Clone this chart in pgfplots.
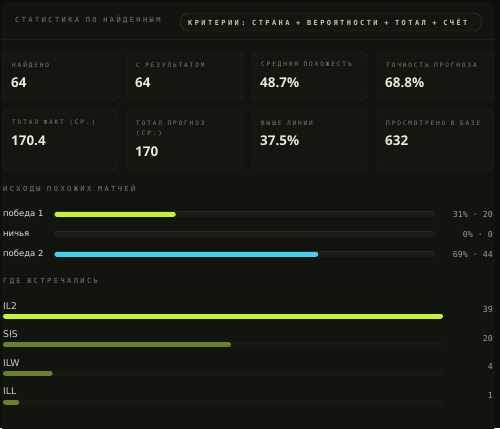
\documentclass[border=0pt]{standalone}
\usepackage{pgfplots}
\pgfplotsset{compat=1.18}
\usepackage{fontspec}
\setmainfont{DejaVu Sans}
\newfontfamily\lbl[LetterSpace=35]{DejaVu Sans Mono}
\newfontfamily\lbls[LetterSpace=31]{DejaVu Sans Mono}
\newfontfamily\monof{DejaVu Sans Mono}
\newfontfamily\valfont{Open Sans}
\definecolor{bgout}{HTML}{0D0F0A}
\definecolor{panel}{HTML}{12140E}
\definecolor{panelborder}{HTML}{1F2219}
\definecolor{cardborder}{HTML}{272A1F}
\definecolor{cardfill}{HTML}{14160F}
\definecolor{lblgray}{HTML}{7A7D6E}
\definecolor{valtxt}{HTML}{E6EAD6}
\definecolor{pillborder}{HTML}{3D4228}
\definecolor{pilltxt}{HTML}{C9CDB5}
\definecolor{lime}{HTML}{C6F135}
\definecolor{cyanbar}{HTML}{3FD3F0}
\definecolor{olive}{HTML}{6A7F2A}
\definecolor{track}{HTML}{1A1D14}
\definecolor{trackborder}{HTML}{262A1E}
\definecolor{ptrack}{HTML}{171A12}
\definecolor{rowtxt}{HTML}{E4E7D6}
\definecolor{numtxt}{HTML}{9B9E8A}
\begin{document}
\begin{tikzpicture}[x=1bp,y=1bp]
\fill[bgout] (0,0) rectangle (500,428);
\draw[panelborder,fill=panel,rounded corners=8bp] (2,-10) rectangle (494,425);
\draw[panelborder] (2,389) -- (494,389);
% header
\node[anchor=west,inner sep=0,text=lblgray,font=\lbl\fontsize{7}{8}\selectfont] at (15,408) {СТАТИСТИКА ПО НАЙДЕННЫМ};
\draw[pillborder,fill=cardfill,rounded corners=9bp] (180,415) rectangle (482,397);
\node[anchor=west,inner sep=0,text=pilltxt,font=\lbl\bfseries\fontsize{7}{8}\selectfont] at (188,406) {КРИТЕРИИ: СТРАНА + ВЕРОЯТНОСТИ + ТОТАЛ + СЧЁТ};
% cards
\foreach \xa/\xb in {3/118,127/243,252/367,377/493}{
  \draw[cardborder,fill=cardfill,rounded corners=6bp] (\xa,376) rectangle (\xb,328);
  \draw[cardborder,fill=cardfill,rounded corners=6bp] (\xa,318) rectangle (\xb,258);
}
\tikzset{cl/.style={anchor=west,inner sep=0,text=lblgray,font=\lbls\fontsize{6.1}{7}\selectfont},
         cv/.style={anchor=west,inner sep=0,text=valtxt,font=\valfont\bfseries\fontsize{13.5}{15}\selectfont}}
\node[cl] at (12,363) {НАЙДЕНО};
\node[cv] at (11,345) {64};
\node[cl] at (136,363) {С РЕЗУЛЬТАТОМ};
\node[cv] at (135,345) {64};
\node[cl] at (261,363) {СРЕДНЯЯ ПОХОЖЕСТЬ};
\node[cv] at (260,345) {48.7\%};
\node[cl] at (386,363) {ТОЧНОСТЬ ПРОГНОЗА};
\node[cv] at (385,345) {68.8\%};
\node[cl] at (12,305) {ТОТАЛ ФАКТ (СР.)};
\node[cv] at (11,287) {170.4};
\node[cl] at (136,305) {ТОТАЛ ПРОГНОЗ};
\node[cl] at (136,294) {(СР.)};
\node[cv] at (135,276) {170};
\node[cl] at (261,305) {ВЫШЕ ЛИНИИ};
\node[cv] at (260,287) {37.5\%};
\node[cl] at (386,305) {ПРОСМОТРЕНО В БАЗЕ};
\node[cv] at (385,287) {632};
% outcomes
\node[anchor=west,inner sep=0,text=lblgray,font=\lbl\fontsize{7}{8}\selectfont] at (3,239) {ИСХОДЫ ПОХОЖИХ МАТЧЕЙ};
\tikzset{rl/.style={anchor=west,inner sep=0,text=rowtxt,font=\fontsize{8.5}{10}\selectfont},
         rn/.style={anchor=east,inner sep=0,text=numtxt,font=\monof\fontsize{8.3}{10}\selectfont}}
\node[rl] at (3,214) {победа 1};
\node[rl] at (3,194) {ничья};
\node[rl] at (3,174) {победа 2};
\node[rn] at (493,214) {31\% · 20};
\node[rn] at (493,194) {0\% · 0};
\node[rn] at (493,174) {69\% · 44};
\begin{axis}[at={(57bp,174bp)},anchor=south west,scale only axis,width=375bp,height=40bp,
  xmin=0,xmax=100,ymin=0,ymax=2,y dir=reverse,hide axis,clip=false]
\addplot[xcomb,line cap=round,line width=6.5bp,trackborder,mark=none] coordinates {(100,0) (100,1) (100,2)};
\addplot[xcomb,line cap=round,line width=5bp,track,mark=none] coordinates {(100,0) (100,1) (100,2)};
\addplot[xcomb,line cap=round,line width=5bp,lime,mark=none] coordinates {(31,0)};
\addplot[xcomb,line cap=round,line width=5bp,cyanbar,mark=none] coordinates {(69,2)};
\end{axis}
% places
\node[anchor=west,inner sep=0,text=lblgray,font=\lbl\fontsize{7}{8}\selectfont] at (3,147) {ГДЕ ВСТРЕЧАЛИСЬ};
\tikzset{pl/.style={anchor=west,inner sep=0,text=rowtxt!90!black,font=\fontsize{9.3}{10}\selectfont}}
\node[pl] at (3,122) {IL2};
\node[pl] at (3,94) {SIS};
\node[pl] at (3,65) {ILW};
\node[pl] at (3,37) {ILL};
\node[rn] at (493,119) {39};
\node[rn] at (493,90) {20};
\node[rn] at (493,62) {4};
\node[rn] at (493,33) {1};
\begin{axis}[at={(5.5bp,26bp)},anchor=south west,scale only axis,width=435bp,height=86bp,
  xmin=0,xmax=39,ymin=0,ymax=3,y dir=reverse,hide axis,clip=false]
\addplot[xcomb,line cap=round,line width=5bp,ptrack,mark=none] coordinates {(39,0) (39,1) (39,2) (39,3)};
\addplot[xcomb,line cap=round,line width=5bp,lime,mark=none] coordinates {(39,0)};
\addplot[xcomb,line cap=round,line width=5bp,olive,mark=none] coordinates {(20,1) (4,2) (1,3)};
\end{axis}
\pgfresetboundingbox
\path[use as bounding box] (0,0) rectangle (500,428);
\end{tikzpicture}
\end{document}
